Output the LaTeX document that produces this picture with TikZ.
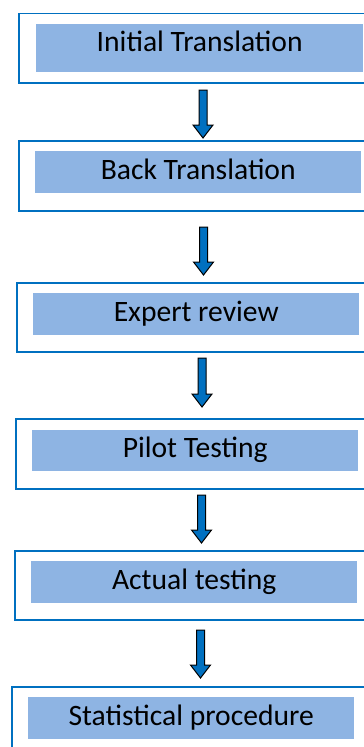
\documentclass[tikz,border=0pt]{standalone}
\usepackage{fontspec}
\setmainfont{Carlito}
\usetikzlibrary{calc}
\definecolor{frameblue}{RGB}{0,112,192}
\definecolor{stepfill}{RGB}{142,180,227}
\definecolor{arrowblue}{RGB}{0,112,192}
\tikzset{
  frame/.style={draw=frameblue, line width=1.8pt, fill=white, inner sep=0pt,
    anchor=north west, minimum height=#1},
  stepbox/.style={fill=stepfill, inner xsep=0pt, inner ysep=0pt, anchor=north west,
    minimum width=#1, align=center, font=\fontsize{29.6}{34}\selectfont},
  blockarrow/.style={fill=arrowblue, draw=black, line width=1pt, line join=miter,
    to path={let \p1=(\tikztostart), \p2=(\tikztotarget) in
      (\x1-4pt,\y1) -- (\x1+4pt,\y1) -- (\x1+4pt,\y2+13pt) -- (\x1+10pt,\y2+13pt)
      -- (\x1,\y2) -- (\x1-10pt,\y2+13pt) -- (\x1-4pt,\y2+13pt) -- cycle}}
}
\begin{document}
\begin{tikzpicture}[x=1pt,y=-1pt]
\useasboundingbox (0,0) rectangle (364,747);
\clip (0,0) rectangle (364,747);
\fill[white] (0,0) rectangle (364,747);

% outer frames (their right sides run past the page edge)
\node[frame=69.5pt, minimum width=360pt] (f1) at (18,12.5) {};
\node[frame=70pt,   minimum width=360pt] (f2) at (18,140) {};
\node[frame=69pt,   minimum width=362pt] (f3) at (16,282) {};
\node[frame=70pt,   minimum width=363pt] (f4) at (15,418) {};
\node[frame=69pt,   minimum width=364pt] (f5) at (14,550) {};
\node[frame=70pt,   minimum width=367pt] (f6) at (11,686) {};

% filled step boxes
\node[stepbox=327pt, text height=28.4pt, text depth=20pt]   (s1) at (36,23.3)  {Initial Translation};
\node[stepbox=326pt, text height=28pt,   text depth=13.7pt] (s2) at (35,151)   {Back Translation};
\node[stepbox=326pt, text height=29pt,   text depth=13.3pt] (s3) at (33,292.7) {Expert review};
\node[stepbox=326pt, text height=28pt,   text depth=13.4pt] (s4) at (32,429.3) {Pilot Testing};
\node[stepbox=326pt, text height=28.3pt, text depth=13.4pt] (s5) at (31,561)   {Actual testing};
\node[stepbox=326pt, text height=28.3pt, text depth=14pt]   (s6) at (28,696.7) {Statistical procedure};

% arrow ends between the frames
\coordinate (a1) at (203,90);   \coordinate (b1) at (203,138);
\coordinate (a2) at (203.5,227); \coordinate (b2) at (203.5,275);
\coordinate (a3) at (202,358);  \coordinate (b3) at (202,407);
\coordinate (a4) at (201.5,495); \coordinate (b4) at (201.5,543);
\coordinate (a5) at (200.5,630); \coordinate (b5) at (200.5,678);

\draw[blockarrow] (a1) to (b1);
\draw[blockarrow] (a2) to (b2);
\draw[blockarrow] (a3) to (b3);
\draw[blockarrow] (a4) to (b4);
\draw[blockarrow] (a5) to (b5);
\end{tikzpicture}
\end{document}
